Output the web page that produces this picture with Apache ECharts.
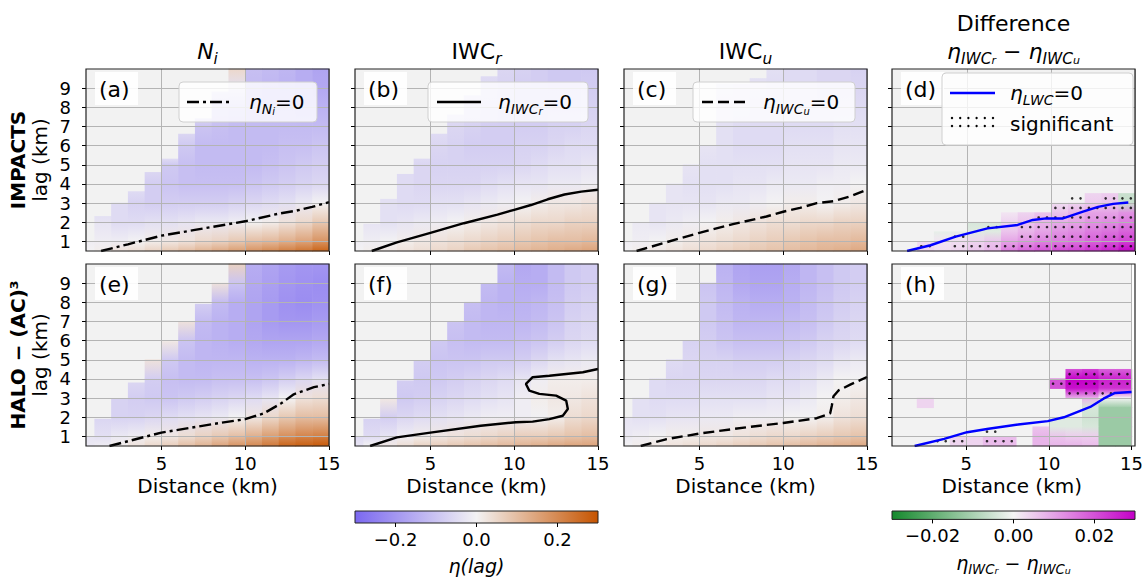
<!DOCTYPE html>
<html><head><meta charset="utf-8">
<script src="https://cdn.jsdelivr.net/npm/echarts@6/dist/echarts.min.js"></script>
<style>html,body{margin:0;padding:0;background:#fff}#c{width:1146px;height:577px}</style>
</head><body><div id="c"></div>
<script>
const _ = null;
// ---------- DATA ----------
const distTicks = [5, 10, 15];
const lagTicks = [1, 2, 3, 4, 5, 6, 7, 8, 9];
const etaTicks = [-0.2, 0, 0.2];
const diffTicks = [-0.02, 0, 0.02];
// column c spans distance [c, c+1] km
const mainLevels = [10, 9, 8, 7, 6, 5, 4, 3, 2, 1, 0.5];   // lag (km), rows top -> bottom
const diffLevels = [5, 4.5, 4, 3.5, 3, 2.5, 2, 1.5, 1, 0.5];
const sigRowLags = [4.25, 3.75, 3.25, 2.75, 2.25, 1.75, 1.25, 0.75];

// (a) IMPACTS  N_i
const etaNi_IMPACTS = [
 [_,_,_,_,_,_,_,_,_, .05,-.11,-.12,-.13,-.15,-.17],
 [_,_,_,_,_,_,_,_,-.05,-.04,-.12,-.13,-.14,-.15,-.16],
 [_,_,_,_,_,_,_,-.07,-.09,-.10,-.12,-.13,-.13,-.14,-.14],
 [_,_,_,_,_,_,-.06,-.10,-.11,-.12,-.12,-.12,-.12,-.12,-.12],
 [_,_,_,_,_,-.05,-.09,-.12,-.12,-.12,-.12,-.12,-.11,-.11,-.10],
 [_,_,_,_,-.06,-.09,-.11,-.12,-.12,-.12,-.12,-.11,-.10,-.09,-.08],
 [_,_,_,-.05,-.08,-.10,-.11,-.11,-.11,-.11,-.10,-.09,-.08,-.07,-.06],
 [_,-.04,-.05,-.07,-.08,-.08,-.08,-.08,-.08,-.07,-.06,-.05,-.04,-.02, .00],
 [_,-.03,-.05,-.05,-.04,-.04,-.03,-.02,-.02,-.01, .00, .01, .03, .05, .08],
 [-.01,-.01,-.01, .00, .01, .02, .03, .05, .06, .08, .10, .11, .13, .15, .18],
 [ .00, .01, .03, .04, .06, .08, .10, .12, .14, .16, .18, .20, .22, .24, .27]
];
const topNi_IMPACTS = [1, 2.3, 3, 3.6, 4.6, 5.3, 6.6, 7.4, 8.8, 10, 10, 10, 10, 10, 10];
const zeroNi_IMPACTS = [[1.4,0.5],[3,0.85],[5,1.3],[7,1.6],[10,2.05],[12,2.45],[13,2.6],[14,2.8],[15,3.05]];

// (b) IMPACTS  IWC_r
const etaIWCr_IMPACTS = [
 [_,_,_,_,_,_,_,_,-.05,-.06,-.07,-.08,-.09,-.09,-.09],
 [_,_,_,_,_,_,_,-.05,-.06,-.07,-.08,-.08,-.09,-.09,-.08],
 [_,_,_,_,_,_,-.05,-.06,-.07,-.08,-.08,-.08,-.08,-.08,-.07],
 [_,_,_,_,_,-.05,-.06,-.07,-.08,-.08,-.08,-.08,-.07,-.07,-.06],
 [_,_,_,_,-.05,-.06,-.07,-.08,-.08,-.08,-.07,-.07,-.06,-.05,-.05],
 [_,_,_,-.05,-.06,-.07,-.07,-.07,-.07,-.07,-.06,-.05,-.04,-.04,-.03],
 [_,_,-.04,-.05,-.06,-.06,-.06,-.06,-.05,-.04,-.03,-.03,-.02,-.02,-.01],
 [_,-.03,-.04,-.05,-.05,-.04,-.04,-.03,-.02,-.01, .00, .01, .02, .02, .03],
 [_,-.03,-.04,-.03,-.02,-.01, .00, .01, .02, .03, .04, .05, .05, .06, .06],
 [-.01,-.01, .00, .01, .02, .03, .04, .05, .06, .07, .08, .09, .10, .10, .11],
 [ .00, .01, .02, .03, .04, .05, .06, .08, .09, .10, .11, .12, .13, .14, .15]
];
const topIWCr_IMPACTS = [1, 1.9, 3.2, 4.5, 5.3, 6.6, 7.6, 8.6, 9.6, 10, 10, 10, 10, 10, 10];
const zeroIWCr_IMPACTS = [[1.5,0.5],[3,0.95],[5,1.45],[7,1.95],[9,2.4],[10,2.65],[11,2.9],[12,3.2],[13,3.45],[14,3.6],[15,3.7]];

// (c) IMPACTS  IWC_u
const etaIWCu_IMPACTS = [
 [_,_,_,_,_,_,-.03,-.04,-.04,-.04,-.05,-.05,-.06,-.06,-.07],
 [_,_,_,_,_,_,-.03,-.04,-.04,-.05,-.05,-.05,-.06,-.06,-.06],
 [_,_,_,_,_,_,-.04,-.04,-.05,-.05,-.05,-.05,-.05,-.05,-.05],
 [_,_,_,_,_,_,-.04,-.05,-.05,-.05,-.05,-.05,-.05,-.04,-.04],
 [_,_,_,_,_,-.03,-.04,-.05,-.05,-.05,-.04,-.04,-.04,-.03,-.03],
 [_,_,_,_,-.03,-.04,-.04,-.04,-.04,-.04,-.03,-.03,-.03,-.02,-.02],
 [_,_,_,-.03,-.04,-.04,-.04,-.03,-.03,-.02,-.02,-.02,-.01,-.01, .00],
 [_,_,-.03,-.03,-.03,-.03,-.02,-.02,-.01, .00, .01, .01, .00, .01, .02],
 [_,-.02,-.03,-.02,-.01, .00, .01, .02, .03, .04, .04, .05, .05, .06, .06],
 [-.01,-.01, .00, .01, .02, .03, .04, .05, .06, .07, .08, .09, .10, .10, .11],
 [ .00, .01, .02, .03, .04, .05, .06, .07, .08, .09, .10, .11, .12, .13, .14]
];
const topIWCu_IMPACTS = [1, 2, 3, 4, 5, 6, 9.2, 9.2, 9.5, 10, 10, 10, 10, 10, 10];
const zeroIWCu_IMPACTS = [[1.25,0.5],[3,0.95],[5,1.45],[7,1.9],[9,2.3],[10,2.55],[11,2.75],[12,3.0],[13,3.1],[14,3.35],[15,3.7]];

// (d) IMPACTS  difference
const diff_IMPACTS = [
 [_,_,_,_,_,_,_,_,_,_,_,_,_,_,_],
 [_,_,_,_,_,_,_,_,_,_,_,_,_,_,_],
 [_,_,_,_,_,_,_,_,_,_,_,_,_,_,_],
 [_,_,_,_,_,_,_,_,_,_,_,_, .004, .005,-.006],
 [_,_,_,_,_,_,_,_,_,_, .003, .004, .005, .006,-.006],
 [_,_,_,_,_,_,_, .002, .004, .006, .006, .008, .010, .010, .012],
 [_,_,_,_,_,-.004,-.004, .004, .006, .008, .009, .010, .012, .013, .015],
 [_,_,_,-.002,-.002,-.003,-.003, .006, .008, .010, .012, .013, .015, .016, .018],
 [_,_, .003, .002, .003, .004, .006, .010, .012, .014, .015, .016, .018, .020, .022],
 [_,_, .004, .003, .004, .006, .008, .015, .018, .020, .021, .022, .024, .026, .030]
];
const sig_IMPACTS = [
 [0,0,0,0,0,0,0,0,0,0,0,0,0,0,0],
 [0,0,0,0,0,0,0,0,0,0,0,0,0,0,0],
 [0,0,0,0,0,0,0,0,0,0,0,1,0,1,1],
 [0,0,0,0,0,0,0,0,0,0,1,1,1,1,1],
 [0,0,0,0,0,0,0,0,0,1,1,1,1,1,1],
 [0,0,0,0,0,0,1,0,1,1,1,1,1,1,1],
 [0,0,0,0,1,0,0,0,1,1,1,1,1,1,1],
 [0,0,1,0,1,1,1,1,1,1,1,1,1,1,1]
];
const zeroLWC_IMPACTS = [[1.4,0.5],[2.8,0.8],[4.3,1.25],[6.2,1.68],[8.0,1.86],[8.9,2.12],[9.7,2.2],[10.7,2.2],[11.9,2.55],[12.8,2.8],[13.7,2.96],[14.6,3.03]];

// (e) HALO-(AC)3  N_i
const etaNi_HALO = [
 [_,_,_,_,_,_,_,_,_, .06,-.15,-.17,-.19,-.20,-.20],
 [_,_,_,_,_,_,_,_, .03,-.10,-.16,-.18,-.20,-.21,-.22],
 [_,_,_,_,_,_,_,-.08,-.12,-.15,-.17,-.19,-.21,-.22,-.21],
 [_,_,_,_,_,_, .03,-.12,-.14,-.15,-.17,-.19,-.20,-.20,-.19],
 [_,_,_,_,_, .02,-.10,-.13,-.14,-.15,-.16,-.17,-.17,-.17,-.16],
 [_,_,_,_, .03,-.09,-.12,-.13,-.13,-.13,-.14,-.14,-.14,-.13,-.12],
 [_,_,_,-.06,-.08,-.11,-.12,-.12,-.11,-.11,-.11,-.10,-.08,-.06,-.04],
 [_,_,-.07,-.08,-.09,-.10,-.09,-.08,-.07,-.06,-.05,-.03, .00, .03, .04],
 [_,-.06,-.07,-.07,-.06,-.05,-.04,-.03,-.02, .00, .02, .05, .08, .10, .10],
 [-.03,-.04,-.02,-.01, .01, .02, .04, .06, .08, .10, .13, .16, .19, .21, .22],
 [-.02,-.01, .01, .03, .05, .07, .10, .12, .15, .18, .20, .23, .27, .28, .29]
];
const topNi_HALO = [1, 1.9, 2.95, 3.8, 5, 5.95, 7, 7.9, 9, 10, 10, 10, 10, 10, 10];
const zeroNi_HALO = [[1.9,0.5],[5,1.2],[8.1,1.65],[10,1.9],[11.1,2.2],[12.1,2.7],[12.9,3.2],[14.1,3.57],[15,3.74]];

// (f) HALO-(AC)3  IWC_r
const etaIWCr_HALO = [
 [_,_,_,_,_,_,_,_,_,-.12,-.16,-.15,-.12,-.09,-.08],
 [_,_,_,_,_,_,_,_,-.12,-.14,-.15,-.15,-.12,-.09,-.08],
 [_,_,_,_,_,_,_,-.11,-.13,-.14,-.14,-.13,-.11,-.08,-.07],
 [_,_,_,_,_,_,-.10,-.12,-.13,-.13,-.13,-.12,-.10,-.07,-.06],
 [_,_,_,_,_,-.09,-.11,-.12,-.12,-.12,-.11,-.10,-.08,-.06,-.05],
 [_,_,_,_,-.08,-.10,-.10,-.10,-.09,-.09,-.08,-.06,-.04,-.03,-.02],
 [_,_,_,-.08,-.09,-.09,-.08,-.07,-.06,-.05,-.03,-.01, .01, .01, .01],
 [_,_, .02,-.09,-.08,-.07,-.06,-.05,-.04,-.03,-.01, .01, .02, .02, .03],
 [_,-.07,-.08,-.06,-.05,-.04,-.03,-.02,-.01,-.01,-.01,-.005, .01, .04, .05],
 [-.05,-.05,-.03,-.01, .01, .02, .03, .04, .05, .06, .07, .07, .08, .09, .10],
 [-.03, .00, .02, .04, .06, .07, .08, .09, .10, .11, .12, .13, .14, .15, .15]
];
const topIWCr_HALO = [1, 1.9, 2.95, 3.9, 4.95, 6, 6.95, 8, 8.95, 10, 10, 10, 10, 10, 10];
const zeroIWCr_HALO = [[1.4,0.5],[3,0.95],[5,1.2],[8,1.56],[10.1,1.74],[11.1,1.77],[12.1,1.9],[12.9,2.08],[13.2,2.43],[13.1,2.87],[12.5,3.13],[11.5,3.22],[10.9,3.39],[10.7,3.74],[11.1,4.09],[12.1,4.17],[14.1,4.35],[15,4.52]];

// (g) HALO-(AC)3  IWC_u
const etaIWCu_HALO = [
 [_,_,_,_,_,-.10,-.14,-.17,-.18,-.18,-.16,-.13,-.11,-.09,-.08],
 [_,_,_,_,_,-.10,-.13,-.16,-.17,-.17,-.15,-.13,-.11,-.09,-.08],
 [_,_,_,_,_,-.09,-.12,-.14,-.15,-.15,-.14,-.12,-.10,-.08,-.07],
 [_,_,_,_,-.06,-.09,-.11,-.13,-.13,-.13,-.12,-.11,-.09,-.07,-.06],
 [_,_,_,_,-.07,-.08,-.10,-.11,-.11,-.11,-.10,-.09,-.07,-.06,-.05],
 [_,_,_,-.05,-.06,-.07,-.07,-.08,-.08,-.08,-.07,-.06,-.05,-.03,-.02],
 [_,_,-.05,-.06,-.06,-.06,-.06,-.06,-.06,-.05,-.05,-.04,-.02, .00, .00],
 [_,-.04,-.05,-.05,-.05,-.04,-.04,-.04,-.04,-.03,-.03,-.02, .00, .01, .02],
 [-.03,-.04,-.04,-.03,-.03,-.02,-.02,-.01,-.01,-.01, .00, .00, .01, .03, .04],
 [-.02,-.01, .00, .01, .01, .02, .02, .03, .04, .05, .05, .06, .07, .08, .09],
 [ .00, .01, .02, .03, .04, .05, .06, .07, .08, .09, .10, .11, .12, .13, .14]
];
const topIWCu_HALO = [2, 3, 4, 5, 6, 9, 10, 10, 10, 10, 10, 10, 10, 10, 10];
const zeroIWCu_HALO = [[1.5,0.5],[3,0.85],[5,1.15],[8,1.5],[10,1.7],[12,1.95],[12.8,2.2],[12.9,2.6],[13.0,3.1],[13.3,3.4],[14,3.7],[15,4.1]];

// (h) HALO-(AC)3  difference
const diff_HALO = [
 [_,_,_,_,_,_,_,_,_,_,_,_,_,_,_],
 [_,_,_,_,_,_,_,_,_,_,_, .020, .022, .018, .018],
 [_,_,_,_,_,_,_,_,_,_, .020, .030, .030, .026, .026],
 [_,_,_,_,_,_,_,_,_,_, .020, .028, .028, .024, .024],
 [_,_, .004,_,_,_,_,_,_,_,_, .008, .008, .000, .000],
 [_,_, .004,_,_,_,_,_,_,_,_,_,-.004,-.012,-.012],
 [_,_,_,_,_,_,_,_,_,_,-.003,-.003,-.005,-.012,-.012],
 [_,_,_,_,_,_,_,_,_, .006,-.003,-.003,-.004,-.012,-.012],
 [_,_,_,_, .004, .004, .007, .007,_, .008, .006, .005, .005,-.012,-.012],
 [_,_,_,_, .004, .004, .007, .007,_, .008, .008, .008, .007,-.012,-.012]
];
const sig_HALO = [
 [0,0,0,0,0,0,0,0,0,0,0,1,1,1,1],
 [0,0,0,0,0,0,0,0,0,0,1,1,1,1,1],
 [0,0,0,0,0,0,0,0,0,0,0,1,1,1,0],
 [0,0,0,0,0,0,0,0,0,0,0,0,0,0,0],
 [0,0,0,0,0,0,0,0,0,0,0,0,0,0,0],
 [0,0,0,0,0,0,0,0,0,0,0,0,0,0,0],
 [0,0,0,0,0,0,1,0,0,0,0,0,0,0,0],
 [0,0,0,1,1,0,1,1,0,0,0,0,0,0,0]
];
const zeroLWC_HALO = [[1.87,0.5],[3.66,0.87],[5.05,1.22],[6.35,1.4],[8.14,1.62],[9.93,1.8],[10.9,2.0],[12.5,2.54],[13.3,2.97],[14.0,3.27],[15,3.32]];

// ---------- RENDERING ----------
const F = 'DejaVu Sans';
const PL = [86, 355, 624, 892], PT = [69, 264], PW = 243, PH = 182;
const XMIN = 0.5, XMAX = 15, YMIN = 0.5, YMAX = 10;

function makeCmap(stops) {
  return function (v) {
    if (v <= stops[0][0]) v = stops[0][0];
    if (v >= stops[stops.length - 1][0]) v = stops[stops.length - 1][0];
    for (let i = 0; i < stops.length - 1; i++) {
      const a = stops[i], b = stops[i + 1];
      if (v >= a[0] && v <= b[0]) {
        const t = (v - a[0]) / (b[0] - a[0]);
        const c = a[1].map((x, k) => Math.round(x + (b[1][k] - x) * t));
        return 'rgb(' + c.join(',') + ')';
      }
    }
    return '#fff';
  };
}
const etaStops = [[-0.3, [123, 104, 240]], [0, [243, 242, 243]], [0.3, [198, 84, 0]]];
const diffStops = [[-0.03, [20, 137, 44]], [0, [245, 245, 245]], [0.03, [196, 0, 200]]];
const cmapEta = makeCmap(etaStops), cmapDiff = makeCmap(diffStops);

function buildCells(vals, levels, tops) {
  const out = [];
  for (let r = 0; r < levels.length - 1; r++) {
    for (let c = 0; c < vals[r].length; c++) {
      const vt = vals[r][c], vb = vals[r + 1][c];
      if (vt == null || vb == null) continue;
      const y0 = levels[r + 1];
      let y1 = levels[r];
      const t = tops ? tops[c] : 99;
      if (y0 >= t) continue;
      if (y1 > t) y1 = t;
      out.push([Math.max(c, XMIN), c + 1, y0, y1, vb, vt]);
    }
  }
  return out;
}
function buildDots(sig) {
  const out = [];
  sig.forEach((row, r) => row.forEach((s, c) => {
    if (s) { out.push([c + 0.25, sigRowLags[r]]); out.push([c + 0.75, sigRowLags[r]]); }
  }));
  return out;
}
function cellRenderer(cmap) {
  return function (params, api) {
    const p0 = api.coord([api.value(0), api.value(3)]);
    const p1 = api.coord([api.value(1), api.value(2)]);
    return {
      type: 'rect',
      shape: { x: p0[0], y: p0[1] - 0.4, width: p1[0] - p0[0] + 0.6, height: p1[1] - p0[1] + 0.8 },
      style: {
        fill: { type: 'linear', x: 0, y: 0, x2: 0, y2: 1,
          colorStops: [{ offset: 0, color: cmap(api.value(5)) }, { offset: 1, color: cmap(api.value(4)) }] },
        stroke: null
      }
    };
  };
}

const panels = [
  { vals: etaNi_IMPACTS, levels: mainLevels, tops: topNi_IMPACTS, cmap: cmapEta, zero: zeroNi_IMPACTS, color: '#000', dash: [12, 4, 3, 4] },
  { vals: etaIWCr_IMPACTS, levels: mainLevels, tops: topIWCr_IMPACTS, cmap: cmapEta, zero: zeroIWCr_IMPACTS, color: '#000', dash: 'solid' },
  { vals: etaIWCu_IMPACTS, levels: mainLevels, tops: topIWCu_IMPACTS, cmap: cmapEta, zero: zeroIWCu_IMPACTS, color: '#000', dash: [11, 5] },
  { vals: diff_IMPACTS, levels: diffLevels, tops: null, cmap: cmapDiff, zero: zeroLWC_IMPACTS, color: '#0000ff', dash: 'solid', sig: sig_IMPACTS },
  { vals: etaNi_HALO, levels: mainLevels, tops: topNi_HALO, cmap: cmapEta, zero: zeroNi_HALO, color: '#000', dash: [12, 4, 3, 4] },
  { vals: etaIWCr_HALO, levels: mainLevels, tops: topIWCr_HALO, cmap: cmapEta, zero: zeroIWCr_HALO, color: '#000', dash: 'solid' },
  { vals: etaIWCu_HALO, levels: mainLevels, tops: topIWCu_HALO, cmap: cmapEta, zero: zeroIWCu_HALO, color: '#000', dash: [11, 5] },
  { vals: diff_HALO, levels: diffLevels, tops: null, cmap: cmapDiff, zero: zeroLWC_HALO, color: '#0000ff', dash: 'solid', sig: sig_HALO }
];
const panelLabels = ['(a)', '(b)', '(c)', '(d)', '(e)', '(f)', '(g)', '(h)'];

function rich(s) {
  return {
    n: { fontSize: s, lineHeight: s * 1.4, fontFamily: F, color: '#000' },
    i: { fontSize: s, lineHeight: s * 1.4, fontFamily: F, fontStyle: 'italic', color: '#000' },
    s: { fontSize: s * 0.7, lineHeight: s * 0.9, fontFamily: F, fontStyle: 'italic', verticalAlign: 'bottom', color: '#000' },
    ss: { fontSize: s * 0.5, lineHeight: s * 0.55, fontFamily: F, fontStyle: 'italic', verticalAlign: 'bottom', color: '#000' }
  };
}

const grid = [], xAxis = [], yAxis = [], series = [];
const gridLine = { color: '#b4b4b4', width: 1 };
panels.forEach((p, i) => {
  const row = Math.floor(i / 4), col = i % 4;
  grid.push({ left: PL[col], top: PT[row], width: PW, height: PH, show: true, backgroundColor: '#f2f2f2', borderWidth: 0 });
  xAxis.push({
    type: 'value', gridIndex: i, min: XMIN, max: XMAX, z: 3,
    axisLine: { show: false },
    axisTick: { show: true, length: 4, customValues: distTicks, lineStyle: { color: '#000', width: 1 } },
    axisLabel: { show: row === 1, customValues: distTicks, fontSize: 18, lineHeight: 20, fontFamily: F, color: '#000', margin: 7 },
    splitLine: { show: true, lineStyle: gridLine },
    name: row === 1 ? 'Distance (km)' : '', nameLocation: 'middle', nameGap: 29,
    nameTextStyle: { fontSize: 20, lineHeight: 22, fontFamily: F, color: '#000' }
  });
  yAxis.push({
    type: 'value', gridIndex: i, min: YMIN, max: YMAX, z: 3,
    axisLine: { show: false },
    axisTick: { show: true, length: 4, customValues: lagTicks, lineStyle: { color: '#000', width: 1 } },
    axisLabel: { show: col === 0, customValues: lagTicks, fontSize: 18, lineHeight: 14, fontFamily: F, color: '#000', margin: 15 },
    splitLine: { show: true, lineStyle: gridLine }
  });
  series.push({
    type: 'custom', xAxisIndex: i, yAxisIndex: i, z: 2, silent: true,
    dimensions: ['x0', 'x1', 'y0', 'y1', 'vb', 'vt'], encode: { x: [0, 1], y: [2, 3] },
    renderItem: cellRenderer(p.cmap), data: buildCells(p.vals, p.levels, p.tops)
  });
  series.push({
    type: 'line', xAxisIndex: i, yAxisIndex: i, z: 6, silent: true, showSymbol: false, symbol: 'none',
    lineStyle: { color: p.color, width: 2.4, type: p.dash }, data: p.zero
  });
  if (p.sig) {
    series.push({
      type: 'scatter', xAxisIndex: i, yAxisIndex: i, z: 5, silent: true, symbol: 'circle', symbolSize: 2.6,
      itemStyle: { color: '#000' }, data: buildDots(p.sig)
    });
  }
});

// colorbars
const cbDefs = [
  { left: 355, stops: etaStops, ticks: etaTicks, dec: 1, name: '{i|η(lag)}' },
  { left: 892, stops: diffStops, ticks: diffTicks, dec: 2, name: '{i|η}{s|IWC}{ss|r}{n| − }{i|η}{s|IWC}{ss|u}' }
];
cbDefs.forEach((cb, k) => {
  const gi = grid.length;
  const lo = cb.stops[0][0], hi = cb.stops[cb.stops.length - 1][0];
  grid.push({ left: cb.left, top: 511, width: 243, height: 12, show: false });
  xAxis.push({
    type: 'value', gridIndex: gi, min: lo, max: hi, z: 3,
    axisLine: { show: false }, splitLine: { show: false },
    axisTick: { show: true, length: 4, customValues: cb.ticks, lineStyle: { color: '#000' } },
    axisLabel: { customValues: cb.ticks, fontSize: 18, fontFamily: F, color: '#000', margin: 7,
      formatter: v => (v < 0 ? '\u2212' : '') + Math.abs(v).toFixed(cb.dec) },
    name: cb.name, nameLocation: 'middle', nameGap: 30,
    nameTextStyle: { rich: rich(19), fontSize: 19, fontFamily: F, color: '#000' }
  });
  yAxis.push({ type: 'value', gridIndex: gi, min: 0, max: 1, show: false });
  series.push({
    type: 'custom', xAxisIndex: gi, yAxisIndex: gi, z: 2, silent: true,
    data: [[lo, hi]],
    renderItem: function (params, api) {
      const p0 = api.coord([api.value(0), 1]), p1 = api.coord([api.value(1), 0]);
      return { type: 'rect', shape: { x: p0[0], y: p0[1], width: p1[0] - p0[0], height: p1[1] - p0[1] },
        style: { fill: { type: 'linear', x: 0, y: 0, x2: 1, y2: 0,
          colorStops: cb.stops.map(s => ({ offset: (s[0] - lo) / (hi - lo), color: 'rgb(' + s[1].join(',') + ')' })) },
          stroke: '#222', lineWidth: 1 } };
    }
  });
});

// ---------- TEXT / DECORATION ----------
const graphic = [];
panels.forEach((p, i) => {
  const row = Math.floor(i / 4), col = i % 4;
  const L = PL[col], T = PT[row];
  graphic.push({ type: 'rect', z: 100, silent: true, shape: { x: L, y: T, width: PW, height: PH },
    style: { fill: null, stroke: '#222', lineWidth: 1.2 } });
  graphic.push({ type: 'rect', z: 101, silent: true, shape: { x: L + 9, y: T + 3, width: 43, height: 33 },
    style: { fill: 'rgba(255,255,255,0.9)', stroke: null } });
  graphic.push({ type: 'text', z: 102, silent: true, x: L + 13, y: T + 20,
    style: { text: panelLabels[i], fontSize: 22, fontFamily: F, fill: '#000', align: 'left', verticalAlign: 'middle' } });
});
const titleRich = rich(22);
const titles = ['{i|N}{s|i}', '{n|IWC}{s|r}', '{n|IWC}{s|u}', '{i|η}{s|IWC}{ss|r}{n| − }{i|η}{s|IWC}{ss|u}'];
titles.forEach((t, col) => {
  graphic.push({ type: 'text', z: 102, silent: true, x: PL[col] + PW / 2, y: 51,
    style: { text: t, rich: titleRich, align: 'center', verticalAlign: 'middle', fontSize: 22, fontFamily: F } });
});
graphic.push({ type: 'text', z: 102, silent: true, x: PL[3] + PW / 2, y: 23,
  style: { text: 'Difference', fontSize: 22, fontFamily: F, fill: '#000', align: 'center', verticalAlign: 'middle' } });
const rowNames = ['IMPACTS', 'HALO \u2212 (AC)\u00b3'];
rowNames.forEach((nm, row) => {
  const cy = PT[row] + PH / 2;
  graphic.push({ type: 'text', z: 102, silent: true, x: 18, y: cy, rotation: Math.PI / 2,
    style: { text: nm, fontSize: 20, fontWeight: 'bold', fontFamily: F, fill: '#000', align: 'center', verticalAlign: 'middle' } });
  graphic.push({ type: 'text', z: 102, silent: true, x: 40, y: cy, rotation: Math.PI / 2,
    style: { text: 'lag (km)', fontSize: 20, fontFamily: F, fill: '#000', align: 'center', verticalAlign: 'middle' } });
});
const legRich = rich(20);
const legends = [
  { col: 0, box: [93, 13, 138, 40], line: [101, 146], tx: 163, text: '{i|η}{s|N}{ss|i}{n|=0}', dash: [12, 4, 3, 4], color: '#000' },
  { col: 1, box: [73, 13, 160, 40], line: [82, 126], tx: 143, text: '{i|η}{s|IWC}{ss|r}{n|=0}', dash: null, color: '#000' },
  { col: 2, box: [69, 13, 162, 40], line: [78, 121], tx: 139, text: '{i|η}{s|IWC}{ss|u}{n|=0}', dash: [11, 5], color: '#000' },
  { col: 3, box: [50, 4, 191, 72], line: [58, 103], tx: 118, text: '{i|η}{s|LWC}{n|=0}', dash: null, color: '#0000ff' }
];
legends.forEach(lg => {
  const L = PL[lg.col], T = PT[0];
  graphic.push({ type: 'rect', z: 103, silent: true, shape: { x: L + lg.box[0], y: T + lg.box[1], width: lg.box[2], height: lg.box[3], r: 4 },
    style: { fill: 'rgba(255,255,255,0.8)', stroke: '#d0d0d0', lineWidth: 1 } });
  graphic.push({ type: 'line', z: 104, silent: true, shape: { x1: L + lg.line[0], y1: T + lg.box[1] + 20, x2: L + lg.line[1], y2: T + lg.box[1] + 20 },
    style: { stroke: lg.color, lineWidth: 2.4, lineDash: lg.dash } });
  graphic.push({ type: 'text', z: 104, silent: true, x: L + lg.tx, y: T + lg.box[1] + 20,
    style: { text: lg.text, rich: legRich, align: 'left', verticalAlign: 'middle', fontSize: 20, fontFamily: F } });
});
(function () {
  const L = PL[3], T = PT[0];
  for (let r = 0; r < 2; r++) for (let k = 0; k < 6; k++) {
    graphic.push({ type: 'circle', z: 104, silent: true, shape: { cx: L + 60 + k * 8.2, cy: T + 49 + r * 8, r: 1.2 }, style: { fill: '#000' } });
  }
  graphic.push({ type: 'text', z: 104, silent: true, x: L + 118, y: T + 55,
    style: { text: 'significant', fontSize: 20, fontFamily: F, fill: '#000', align: 'left', verticalAlign: 'middle' } });
})();

const chart = echarts.init(document.getElementById('c'), null, { renderer: 'svg', width: 1146, height: 577 });
chart.setOption({
  animation: false, backgroundColor: '#fff',
  textStyle: { fontFamily: F },
  grid, xAxis, yAxis, series, graphic
});
</script></body></html>
